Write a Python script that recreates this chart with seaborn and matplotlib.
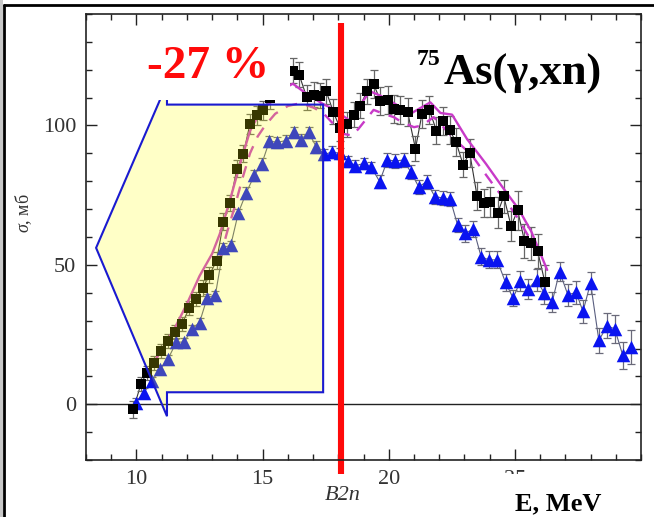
import matplotlib
matplotlib.use("Agg")
import numpy as np
import pandas as pd
import matplotlib.pyplot as plt
import seaborn as sns
from matplotlib.patches import Polygon, Rectangle
from matplotlib.lines import Line2D

# --- measured (γ,xn) cross sections: black squares ---
sq_E = [9.88, 10.17, 10.41, 10.70, 10.98, 11.27, 11.53, 11.80, 12.10, 12.37,
        12.63, 12.89, 13.18, 13.45, 13.71, 13.98, 14.24, 14.50, 14.77, 15.03,
        15.30, 15.60, 15.90, 16.20, 16.45, 16.75, 17.02, 17.29, 17.52, 17.80,
        18.07, 18.34, 18.61, 18.87, 19.14, 19.40, 19.67, 19.96, 20.20, 20.46,
        20.75, 21.06, 21.32, 21.61, 21.89, 22.15, 22.41, 22.67, 22.95, 23.21,
        23.50, 23.77, 24.03, 24.32, 24.56, 24.85, 25.11, 25.38, 25.64, 25.90,
        26.19]
sq_sigma = [-1.8, 7.1, 11.3, 14.9, 19.0, 22.6, 25.8, 28.9, 34.5, 37.7,
            41.7, 46.4, 51.5, 65.5, 72.2, 84.5, 89.9, 100.6, 103.6, 105.4,
            110.0, 114.0, 117.0, 119.6, 118.2, 110.1, 111.1, 110.7, 112.3, 105.0,
            99.0, 100.4, 103.9, 107.1, 112.3, 114.9, 108.9, 109.2, 105.9, 105.6,
            104.8, 91.7, 104.2, 105.6, 98.2, 101.6, 98.5, 94.0, 85.9, 90.2,
            74.8, 72.3, 72.6, 68.7, 74.6, 63.9, 69.6, 58.6, 57.7, 55.0,
            43.8]
sq_err = [3.0, 2.5, 2.5, 2.5, 2.5, 2.5, 2.5, 2.5, 2.5, 2.5,
          3.0, 3.0, 3.0, 3.0, 3.0, 3.0, 3.0, 3.5, 3.5, 3.5,
          4.0, 4.0, 4.0, 4.5, 4.5, 4.5, 4.5, 4.5, 4.5, 4.5,
          4.5, 4.5, 4.5, 4.5, 4.5, 5.0, 5.0, 5.0, 5.0, 5.0,
          5.0, 4.5, 5.0, 5.0, 5.0, 5.0, 5.0, 5.0, 4.5, 5.0,
          5.0, 5.0, 5.5, 5.5, 6.0, 5.5, 7.0, 6.0, 6.0, 6.0,
          6.0]

# --- second measurement: blue triangles ---
tr_E = [9.97, 10.30, 10.60, 10.94, 11.25, 11.58, 11.90, 12.19, 12.50, 12.80,
        13.13, 13.45, 13.74, 14.04, 14.35, 14.67, 14.97, 15.27, 15.59, 15.94,
        16.23, 16.52, 16.82, 17.13, 17.44, 17.75, 18.07, 18.39, 18.67, 19.00,
        19.31, 19.64, 19.95, 20.26, 20.59, 20.88, 21.19, 21.50, 21.83, 22.15,
        22.44, 22.73, 23.04, 23.36, 23.66, 23.96, 24.29, 24.63, 24.93, 25.22,
        25.51, 25.86, 26.16, 26.48, 26.77, 27.10, 27.43, 27.70, 28.00, 28.33,
        28.66, 28.96, 29.28, 29.59]
tr_sigma = [0.6, 4.2, 8.3, 12.6, 16.2, 22.3, 22.3, 27.0, 29.3, 38.1,
            39.3, 56.2, 57.1, 68.7, 75.8, 82.1, 86.3, 94.4, 94.0, 94.6,
            97.6, 94.9, 97.6, 92.3, 89.6, 90.5, 90.0, 87.2, 85.5, 86.4,
            85.0, 79.9, 87.6, 87.3, 87.6, 83.2, 78.0, 79.8, 74.5, 74.0,
            73.5, 64.3, 61.3, 62.9, 53.0, 51.8, 51.8, 43.7, 38.1, 44.3,
            41.3, 44.6, 40.0, 36.7, 47.6, 39.3, 40.1, 33.3, 43.5, 22.9,
            28.2, 27.0, 17.5, 20.5]
tr_err = [1.5, 1.5, 1.5, 1.5, 1.5, 1.5, 1.5, 1.5, 1.5, 1.5,
          1.5, 1.5, 1.5, 1.5, 2.0, 2.0, 2.0, 2.0, 2.0, 2.0,
          2.0, 2.0, 2.0, 2.0, 2.0, 2.0, 2.0, 2.0, 2.0, 2.0,
          2.0, 2.5, 2.5, 2.5, 2.5, 2.5, 2.5, 2.5, 2.5, 2.5,
          2.5, 2.5, 3.0, 3.0, 3.0, 3.0, 3.0, 3.0, 3.0, 3.5,
          3.5, 4.0, 4.0, 3.5, 3.5, 4.0, 4.0, 4.0, 4.0, 4.5,
          4.5, 5.0, 5.0, 6.0]

# --- evaluated cross section (solid) and its variant (dashed) ---
eval_E = [10.47, 11.0, 11.5, 12.0, 12.5, 13.0, 13.3, 13.7, 14.1, 14.5,
          14.9, 15.4, 15.8, 16.2, 16.75, 17.4, 17.8, 18.45, 19.25, 19.67,
          20.3, 20.86, 21.3, 21.65, 22.05, 22.51, 23.1, 23.85, 24.5, 25.15,
          25.65, 26.28]
eval_sigma = [11.9, 19.5, 27.0, 36.0, 46.0, 54.0, 61.0, 73.0, 86.0, 98.0,
              104.8, 109.0, 113.0, 115.0, 111.3, 107.7, 105.9, 101.8, 112.3, 110.7,
              107.5, 104.2, 106.5, 108.3, 104.5, 103.9, 95.2, 86.3, 78.0, 70.0,
              62.0, 48.2]
alt_E = [13.3, 13.6, 13.9, 14.2, 14.5, 14.8, 15.1, 15.5, 16.0, 16.5,
         17.0, 17.4, 17.8, 18.2, 18.55, 18.8, 19.4, 19.8, 20.2, 20.52,
         21.0, 21.32, 21.78, 22.05, 22.5, 23.3, 23.63, 24.3, 24.63, 25.1,
         25.55, 25.88]
alt_sigma = [52.0, 62.0, 71.0, 81.0, 90.0, 96.0, 100.0, 104.2, 107.0, 108.0,
             106.5, 104.5, 100.6, 97.0, 96.4, 98.8, 105.6, 104.2, 103.0, 101.2,
             99.4, 100.0, 103.0, 100.6, 96.0, 89.3, 85.1, 76.8, 73.2, 67.0,
             60.1, 55.4]

B2n = 18.1            # two-neutron separation threshold, MeV
x_ticks = [10, 15, 20, 25]
y_ticks = [0, 50, 100]

squares = pd.DataFrame({"E": sq_E, "sigma": sq_sigma, "err": sq_err})
triangles = pd.DataFrame({"E": tr_E, "sigma": tr_sigma, "err": tr_err})
evaluated = pd.DataFrame({"E": eval_E, "sigma": eval_sigma})
alternative = pd.DataFrame({"E": alt_E, "sigma": alt_sigma})

sns.set_theme(style="ticks")
plt.rcParams["font.family"] = ["Liberation Serif", "DejaVu Serif"]
plt.rcParams["mathtext.fontset"] = "custom"
plt.rcParams["mathtext.rm"] = "Liberation Serif"
plt.rcParams["mathtext.it"] = "Liberation Serif:italic"
plt.rcParams["mathtext.bf"] = "Liberation Serif:bold"

W, H = 654, 517
fig = plt.figure(figsize=(W / 100, H / 100), dpi=100)
ax = fig.add_axes([86 / W, 1 - 460 / H, (641 - 86) / W, (460 - 14) / H])

def fx(px):
    return px / W

def fy(py):
    return 1 - py / H

MAG = "#c83ac8"

# connecting lines of the measured points
sns.lineplot(data=triangles, x="E", y="sigma", sort=False, estimator=None,
             color="#5a5f80", lw=0.8, ax=ax, zorder=2)
sns.lineplot(data=squares, x="E", y="sigma", sort=False, estimator=None,
             color="#333333", lw=0.8, ax=ax, zorder=2)

# error bars
ax.errorbar(triangles["E"], triangles["sigma"], yerr=triangles["err"], fmt="none",
            ecolor="#6a6a7a", elinewidth=0.9, capsize=3.2, capthick=0.9, zorder=2)
ax.errorbar(squares["E"], squares["sigma"], yerr=squares["err"], fmt="none",
            ecolor="#666666", elinewidth=0.9, capsize=3.2, capthick=0.9, zorder=2)

# evaluated curves
sns.lineplot(data=alternative, x="E", y="sigma", sort=False, estimator=None,
             color=MAG, lw=1.7, ax=ax, zorder=3)
ax.lines[-1].set_dashes([5, 4])
sns.lineplot(data=evaluated, x="E", y="sigma", sort=False, estimator=None,
             color=MAG, lw=1.7, ax=ax, zorder=3)

# markers
sns.scatterplot(data=triangles, x="E", y="sigma", marker="^", s=95,
                color="#0a14f0", linewidth=0, ax=ax, zorder=4)
sns.scatterplot(data=squares, x="E", y="sigma", marker="s", s=50,
                color="black", linewidth=0, ax=ax, zorder=4)

ax.axhline(0, color="#222222", lw=1.0, zorder=1)

# highlighted low-energy region (callout shape)
callout = [(11.21, 107.5), (17.40, 107.5), (17.40, 4.3), (11.21, 4.3),
           (11.21, -4.3), (8.40, 56.1), (11.21, 115.0)]
ax.add_patch(Polygon(callout, closed=True, facecolor=(1, 1, 0, 0.22),
                     edgecolor="none", zorder=5, clip_on=False))
ax.add_patch(Polygon(callout, closed=True, facecolor="none",
                     edgecolor="#1a1ad0", lw=1.5, zorder=6, clip_on=False))

# label background
ax.add_patch(Rectangle((9.75, 109.3), 16.1 - 9.75, 26.0, facecolor="white",
                       edgecolor="none", zorder=7))

# threshold line
ax.plot([B2n, B2n], [136.8, -25.0], color="#ff0a0a", lw=4.4,
        solid_capstyle="butt", zorder=8, clip_on=False)

ax.set_xlim(8, 30)
ax.set_ylim(-20, 140)
ax.set_xticks(x_ticks)
ax.set_yticks(y_ticks)
ax.set_xticks(np.arange(8, 31, 1), minor=True)
ax.set_yticks(np.arange(-20, 141, 10), minor=True)
ax.tick_params(which="both", direction="in", top=True, right=True,
               width=1.0, colors="#222222", labelcolor="#333333")
ax.tick_params(which="major", length=8, labelsize=16, pad=7)
ax.tick_params(which="minor", length=4.5)
ax.set_xlabel("")
ax.set_ylabel("")
for sp in ax.spines.values():
    sp.set_linewidth(1.2)
    sp.set_color("#222222")
    sp.set_zorder(9)

# annotations
fig.text(fx(208), fy(78), "-27 %", color="#ff0a0a", fontsize=34,
         fontweight="bold", ha="center", va="baseline")
fig.text(fx(417), fy(49), "75", color="black", fontsize=17,
         fontweight="bold", ha="left", va="top")
fig.text(fx(444), fy(85), "As(γ,xn)", color="black", fontsize=32,
         fontweight="bold", ha="left", va="baseline")
fig.text(fx(24), fy(213), r"$\sigma$, мб", rotation=90, fontsize=13,
         color="#333333", ha="center", va="center")
fig.text(fx(343), fy(500), "B2n", fontstyle="italic", fontsize=16,
         color="#333333", ha="center", va="baseline")

# axis title with its own white backing
fig.add_artist(Rectangle((fx(470), 0), fx(630) - fx(470), fy(474),
                         transform=fig.transFigure, facecolor="white",
                         edgecolor="none", zorder=10))
fig.text(fx(558), fy(510), "E, MeV", fontsize=19, fontweight="bold",
         color="black", ha="center", va="baseline", zorder=11)

# page border
fig.add_artist(Rectangle((0, 0), fx(3.3), 1, transform=fig.transFigure,
                         facecolor="#c8c8c8", edgecolor="none", zorder=12))
fig.add_artist(Line2D([fx(4), fx(4)], [0, fy(5)], color="black", lw=2.0,
                      transform=fig.transFigure, zorder=13))
fig.add_artist(Line2D([fx(4), 1], [fy(5), fy(5)], color="black", lw=2.0,
                      transform=fig.transFigure, zorder=13))

fig.savefig("out.png", dpi=100, facecolor="white")
